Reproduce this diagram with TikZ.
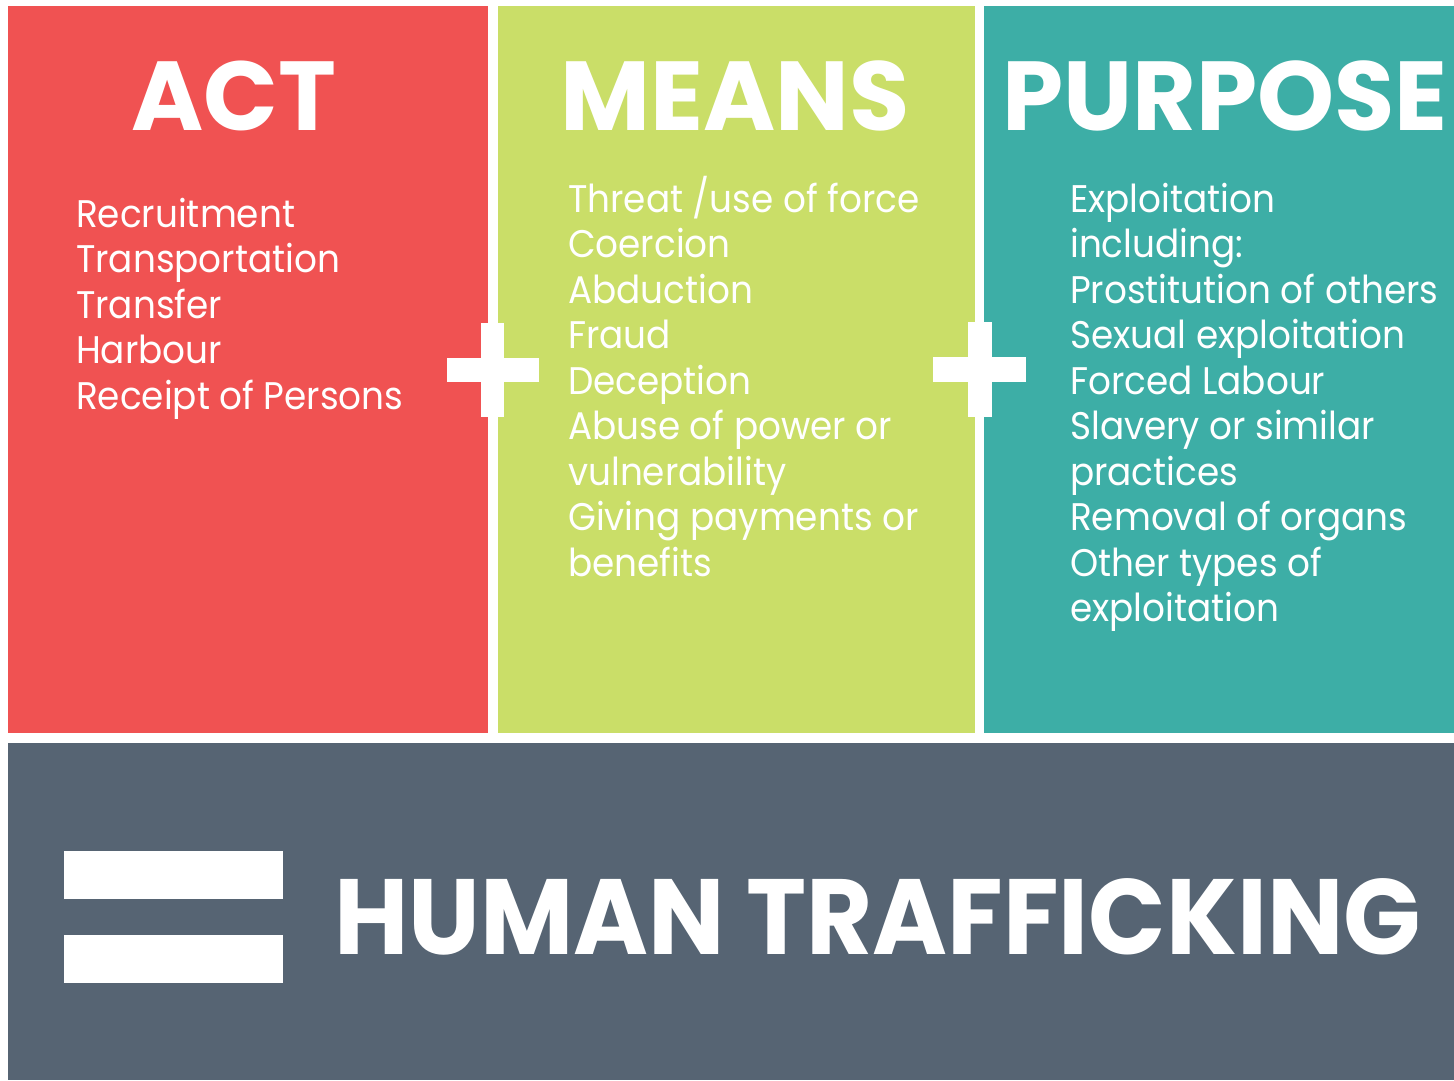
\documentclass[tikz,border=0pt]{standalone}
\usepackage{fontspec}
\setmainfont{Poppins}
\newfontfamily\itemfont{Poppins}[FakeStretch=0.93]
\newfontfamily\totalfont{Poppins}[FakeStretch=0.95]
\usepackage{xcolor}
\usepackage{tikz}
\definecolor{actred}{HTML}{F05252}
\definecolor{meansgreen}{HTML}{CADE68}
\definecolor{purposeteal}{HTML}{3DAEA6}
\definecolor{slate}{HTML}{566473}
\tikzset{
  head/.style={text=white, inner sep=0pt, font=\fontsize{98}{98}\selectfont\bfseries, anchor=base},
  item/.style={text=white, inner sep=0pt, font=\itemfont\fontsize{38.5}{38.5}\selectfont, anchor=base west},
  total/.style={text=white, inner sep=0pt, font=\totalfont\fontsize{107}{107}\selectfont\bfseries, anchor=base west},
  signbar/.style={fill=white},
}
\begin{document}
\begin{tikzpicture}[x=1pt,y=-1pt]
  \useasboundingbox (0,0) rectangle (1454,1080);
  \fill[white] (0,0) rectangle (1454,1080);

  % panels
  \fill[actred] (8,6) rectangle (488,733);
  \fill[meansgreen] (498,6) rectangle (975,733);
  \fill[purposeteal] (984,6) rectangle (1454,733);
  \fill[slate] (8,743) rectangle (1454,1080);

  % headings
  \node[head] (act) at (234,130) {ACT};
  \node[head] (means) at (735,130) {MEANS};
  \node[head] (purpose) at (1225,130) {PURPOSE};

  % lists
  \foreach \t [count=\i] in {Recruitment,Transportation,Transfer,Harbour,Receipt of Persons}
    \node[item] (act\i) at (76,{227+45.6*(\i-1)}) {\t};
  \foreach \t [count=\i] in {Threat /use of force,Coercion,Abduction,Fraud,Deception,
      Abuse of power or,vulnerability,Giving payments or,benefits}
    \node[item] (means\i) at (568,{212+45.5*(\i-1)}) {\t};
  \foreach \t [count=\i] in {Exploitation,including:,Prostitution of others,Sexual exploitation,
      Forced Labour,Slavery or similar,practices,Removal of organs,Other types of,exploitation}
    \node[item] (purpose\i) at (1070,{212+45.5*(\i-1)}) {\t};

  % plus signs
  \fill[signbar] (481,323) rectangle (504,417);
  \fill[signbar] (447,358) rectangle (539,382);
  \fill[signbar] (968,322) rectangle (992,417);
  \fill[signbar] (933,357) rectangle (1026,382);

  % equals sign
  \fill[signbar] (64,851) rectangle (283,899);
  \fill[signbar] (64,935) rectangle (283,983);
  \node[total] (trafficking) at (334,954) {HUMAN TRAFFICKING};
\end{tikzpicture}
\end{document}
